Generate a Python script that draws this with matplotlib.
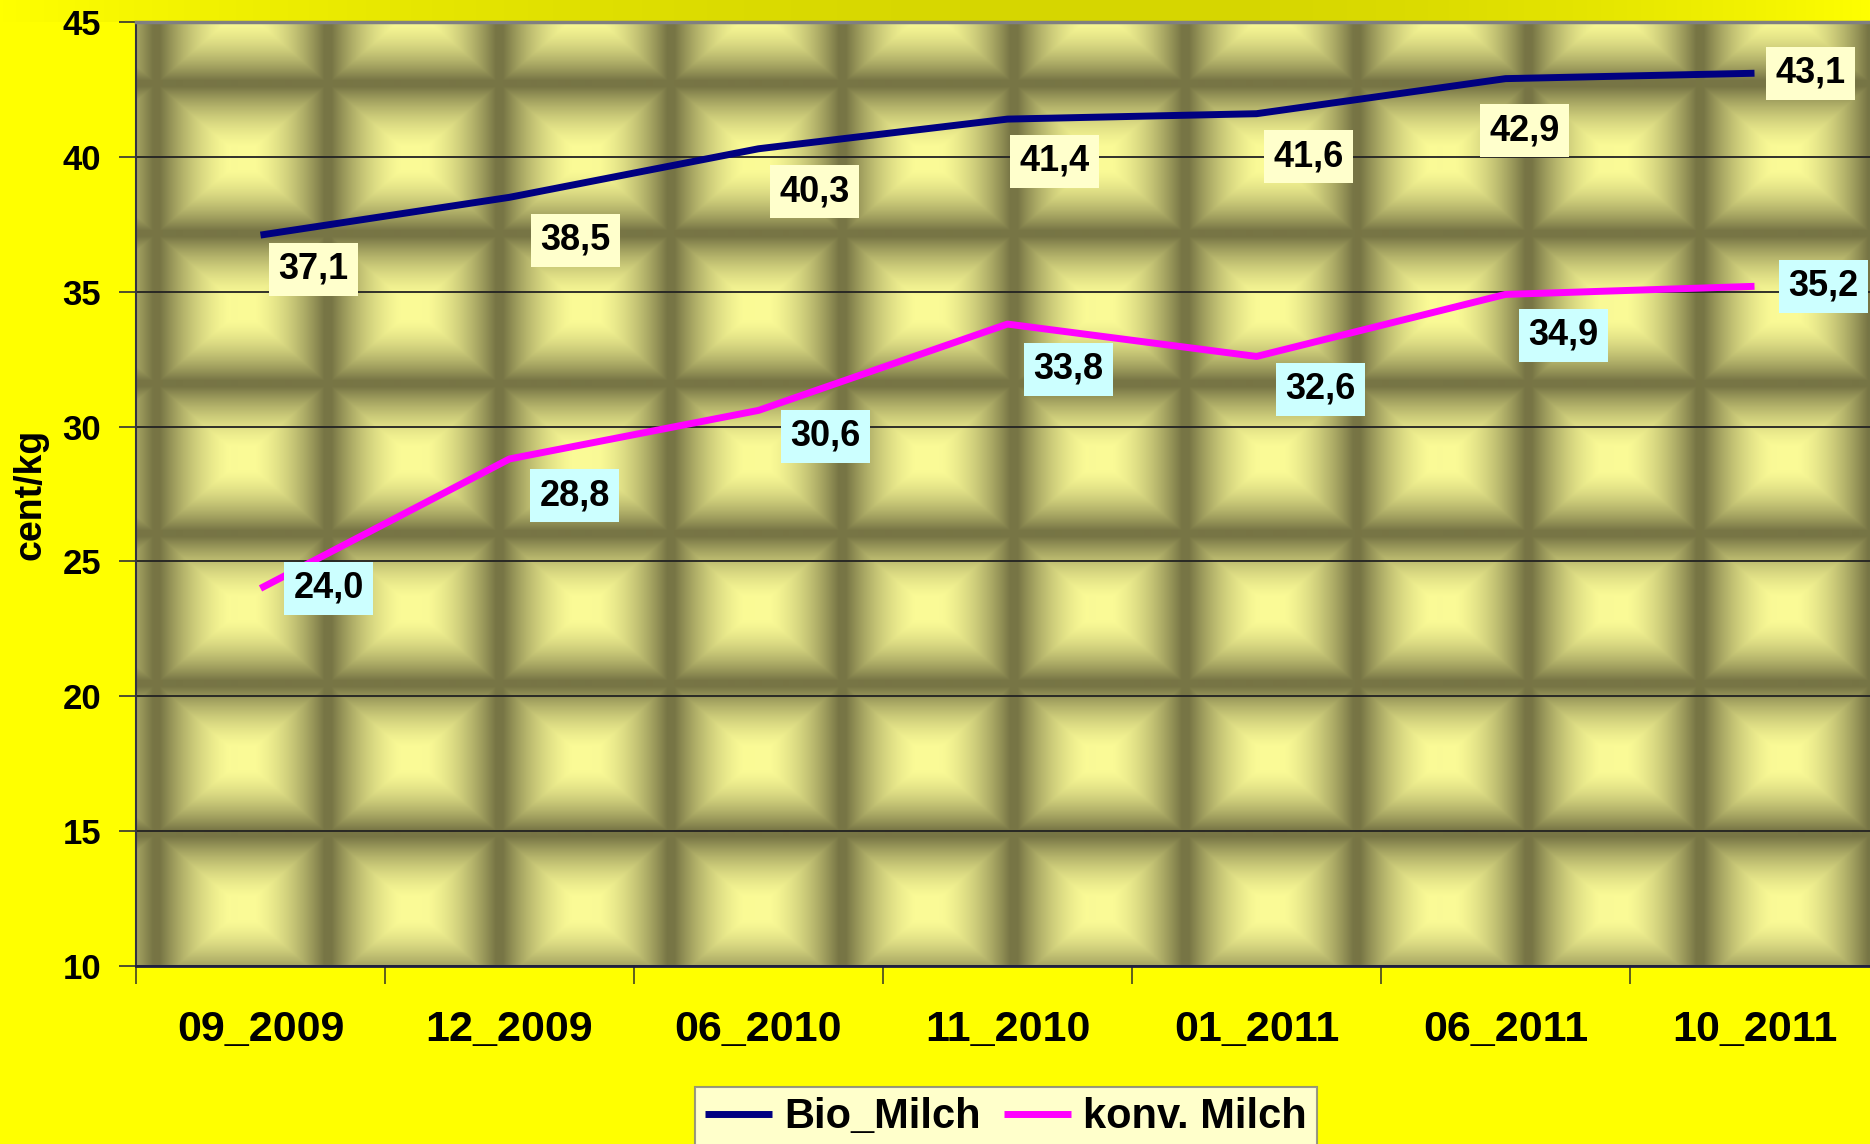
import numpy as np
import matplotlib.pyplot as plt
from matplotlib.colors import LinearSegmentedColormap

plt.rcParams['font.family'] = ['Liberation Sans', 'DejaVu Sans']
plt.rcParams['font.weight'] = 'bold'

kategorien = ['09_2009', '12_2009', '06_2010', '11_2010', '01_2011', '06_2011', '10_2011']
bio_milch = [37.1, 38.5, 40.3, 41.4, 41.6, 42.9, 43.1]
konv_milch = [24.0, 28.8, 30.6, 33.8, 32.6, 34.9, 35.2]
y_ticks = [10, 15, 20, 25, 30, 35, 40, 45]

# Versatz der Datenbeschriftungen in Pixeln (wie Excel sie gesetzt hat)
bio_versatz = [(53, -34), (66, -43), (56, -43), (47, -42), (52, -43), (19, -52), (56, 0)]
konv_versatz = [(68, 0), (65, -37), (67, -26), (61, -45), (64, -33), (58, -41), (69, 0)]

W, H = 1870, 1144
ax_l, ax_t, ax_r, ax_b = 136, 22, 1879, 966


def kachel_textur(breite, hoehe, x0, y0):
    # Hintergrund wie die Excel-Struktur mit Pyramiden-Kacheln
    X, Y = np.meshgrid(np.arange(breite) + x0, np.arange(hoehe) + y0)
    fx = ((X - 156.0) / 171.4) % 1.0
    fy = ((Y - 683.0) / 150.0) % 1.0
    u = np.abs(fx - 0.5) * 2
    v = np.abs(fy - 0.5) * 2
    d = np.maximum(u, v)
    hell = 1.12 * (1 - d ** 1.8) - 0.08
    return np.clip(hell, 0, 1)


fig = plt.figure(figsize=(W / 100, H / 100), dpi=100, facecolor='#ffff00')

# oberer Streifen mit leichtem Verlauf
streifen = fig.add_axes([0, 1 - ax_t / H, 1, ax_t / H])
xs = np.arange(W)
tiefe = np.where(xs < 1150, 1 - ((xs - 1150) / 1150) ** 2, 1 - ((xs - 1150) / 720) ** 2)
streifen_cmap = LinearSegmentedColormap.from_list('streifen', ['#ffff00', '#d6d600'])
streifen.imshow(tiefe[None, :], cmap=streifen_cmap, aspect='auto', vmin=0, vmax=1)
streifen.axis('off')

ax = fig.add_axes([ax_l / W, 1 - ax_b / H, (ax_r - ax_l) / W, (ax_b - ax_t) / H])
kachel_cmap = LinearSegmentedColormap.from_list('kachel', ['#777545', '#fafa96'])
ax.imshow(kachel_textur(ax_r - ax_l, ax_b - ax_t, ax_l, ax_t), cmap=kachel_cmap,
          extent=(-0.5, 6.5, 10, 45), aspect='auto', interpolation='bilinear', zorder=0)

x = np.arange(len(kategorien))
ax.plot(x, bio_milch, color='#000080', lw=5, solid_capstyle='butt', label='Bio_Milch', zorder=3)
ax.plot(x, konv_milch, color='#ff00ff', lw=5, solid_capstyle='butt', label='konv. Milch', zorder=3)

for i, wert in enumerate(bio_milch):
    ax.annotate(f'{wert:.1f}'.replace('.', ','), xy=(i, wert), xytext=bio_versatz[i],
                textcoords='offset pixels', ha='center', va='center', fontsize=26,
                fontweight='bold', zorder=4,
                bbox=dict(boxstyle='square,pad=0.25', fc='#ffffcc', ec='none'))
for i, wert in enumerate(konv_milch):
    ax.annotate(f'{wert:.1f}'.replace('.', ','), xy=(i, wert), xytext=konv_versatz[i],
                textcoords='offset pixels', ha='center', va='center', fontsize=26,
                fontweight='bold', zorder=4,
                bbox=dict(boxstyle='square,pad=0.25', fc='#ccffff', ec='none'))

ax.set_xlim(-0.5, 6.5)
ax.set_ylim(10, 45)
ax.set_yticks(y_ticks)
ax.set_yticklabels([str(t) for t in y_ticks], fontsize=25, fontweight='bold')
ax.tick_params(axis='y', length=12, width=1.2, color='#333333', pad=13)

ax.set_xticks(np.arange(-0.5, 7, 1))
ax.set_xticklabels([])
ax.tick_params(axis='x', which='major', length=13, width=1.2, color='#444422')
ax.set_xticks(x, minor=True)
ax.set_xticklabels(kategorien, minor=True, fontsize=31, fontweight='bold')
ax.tick_params(axis='x', which='minor', length=0, pad=32)

ax.yaxis.grid(True, color='#222222', lw=1.3)
ax.xaxis.grid(False)

ax.spines['top'].set_color('#808080')
ax.spines['top'].set_linewidth(2.5)
ax.spines['right'].set_visible(False)
ax.spines['left'].set_color('#333344')
ax.spines['left'].set_linewidth(1.5)
ax.spines['bottom'].set_color('#202040')
ax.spines['bottom'].set_linewidth(2)

fig.text(30 / W, 1 - 494 / H, 'cent/kg', rotation=90, ha='center', va='center',
         fontsize=27, fontweight='bold')

leg = fig.legend(loc='upper center', bbox_to_anchor=((691 + 1321) / 2 / W, 1 - 1087 / H),
                 ncol=2, fontsize=30, frameon=True, fancybox=False, facecolor='white',
                 edgecolor='#808080', handlelength=1.6, handletextpad=0.3,
                 columnspacing=0.55, borderpad=0.25, borderaxespad=0)
leg.get_frame().set_linewidth(1.5)
for t in leg.get_texts():
    t.set_fontweight('bold')

fig.savefig('out.png', dpi=100, facecolor=fig.get_facecolor())
